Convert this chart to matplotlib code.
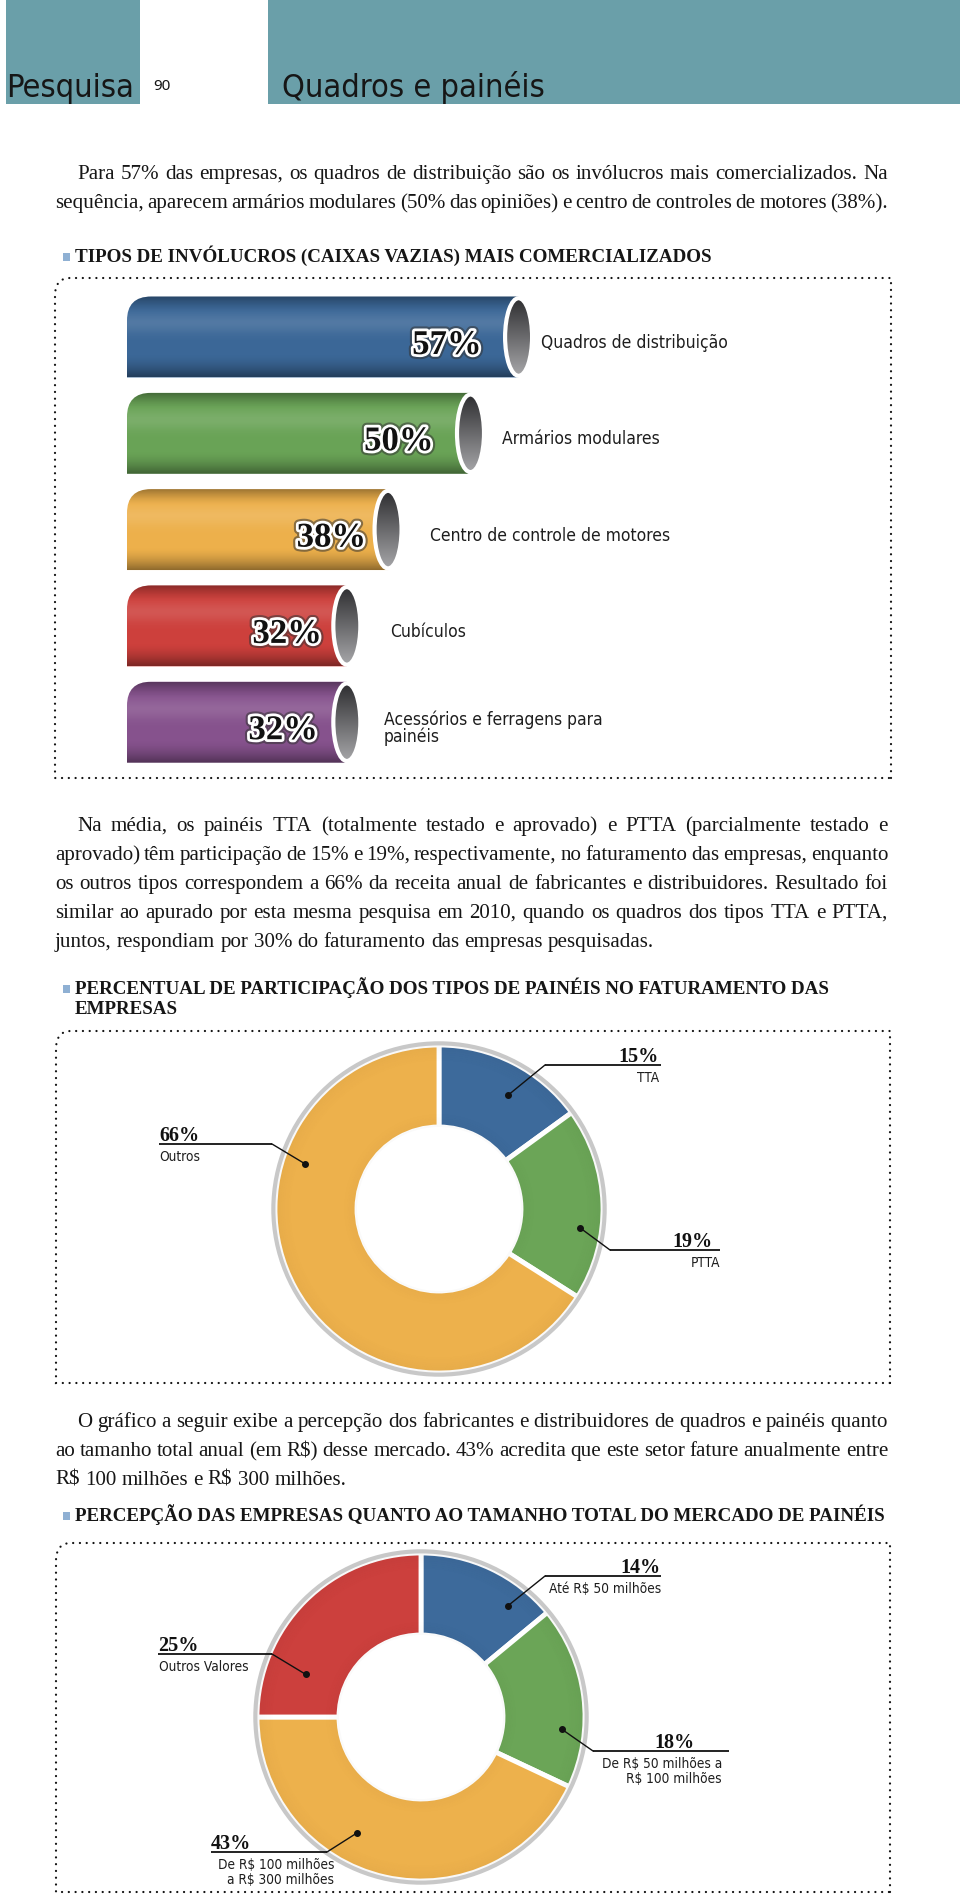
import numpy as np
import matplotlib
matplotlib.use("Agg")
import matplotlib.pyplot as plt
from matplotlib import font_manager
from matplotlib.patches import Rectangle, Ellipse, PathPatch, Circle, Wedge
from matplotlib.path import Path
import matplotlib.patheffects as pe

W, H = 960, 1896

# =============================================================
# DATA
# =============================================================

bar_labels = ["Quadros de distribuição", "Armários modulares",
              "Centro de controle de motores", "Cubículos",
              "Acessórios e ferragens para\npainéis"]
bar_values = [57, 50, 38, 32, 32]
bar_colors = ["#3b6797", "#69a356", "#edb04b", "#cd403c", "#86528d"]

tipo_labels = ["TTA", "PTTA", "Outros"]
tipo_values = [15, 19, 66]
tipo_colors = ["#3d6a9b", "#6ba557", "#edb14c"]

merc_labels = ["Até R$ 50 milhões", "De R$ 50 milhões a\nR$ 100 milhões",
               "De R$ 100 milhões\na R$ 300 milhões", "Outros Valores"]
merc_values = [14, 18, 43, 25]
merc_colors = ["#3d6a9b", "#6ba557", "#edb14c", "#cc403d"]

para1 = [
    "Para 57% das empresas, os quadros de distribuição são os invólucros mais comercializados. Na",
    "sequência, aparecem armários modulares (50% das opiniões) e centro de controles de motores (38%).",
]
para2 = [
    "Na média, os painéis TTA (totalmente testado e aprovado) e PTTA (parcialmente testado e",
    "aprovado) têm participação de 15% e 19%, respectivamente, no faturamento das empresas, enquanto",
    "os outros tipos correspondem a 66% da receita anual de fabricantes e distribuidores. Resultado foi",
    "similar ao apurado por esta mesma pesquisa em 2010, quando os quadros dos tipos TTA e PTTA,",
    "juntos, respondiam por 30% do faturamento das empresas pesquisadas.",
]
para3 = [
    "O gráfico a seguir exibe a percepção dos fabricantes e distribuidores de quadros e painéis quanto",
    "ao tamanho total anual (em R$) desse mercado. 43% acredita que este setor fature anualmente entre",
    "R$ 100 milhões e R$ 300 milhões.",
]
title1 = "TIPOS DE INVÓLUCROS (CAIXAS VAZIAS) MAIS COMERCIALIZADOS"
title2 = ["PERCENTUAL DE PARTICIPAÇÃO DOS TIPOS DE PAINÉIS NO FATURAMENTO DAS",
          "EMPRESAS"]
title3 = "PERCEPÇÃO DAS EMPRESAS QUANTO AO TAMANHO TOTAL DO MERCADO DE PAINÉIS"

# =============================================================
# FONTS / STYLE
# =============================================================

# look for a condensed sans face, else fall back to Roboto
NARROW_KW = dict(family="Roboto")
for f in font_manager.fontManager.ttflist:
    if f.name == "Liberation Sans Narrow":
        NARROW_KW = dict(family=f.name)
        break
else:
    for f in font_manager.fontManager.ttflist:
        st = str(f.stretch)
        if f.name in ("Roboto", "Noto Sans", "Open Sans", "DejaVu Sans", "Inter") \
                and st in ("condensed", "semi-condensed", "extra-condensed") \
                and f.style == "normal":
            NARROW_KW = dict(family=f.name, stretch=st)
            break

SERIF = "Liberation Serif"
TEAL = "#6a9fa9"
INK = "#161616"

fig = plt.figure(figsize=(W / 100, H / 100), dpi=100)
fig.patch.set_facecolor("white")


def px_axes(left, top, width, height, **kw):
    return fig.add_axes([left / W, 1 - (top + height) / H, width / W, height / H], **kw)


bg = px_axes(0, 0, W, H, zorder=0)
bg.set_xlim(0, W)
bg.set_ylim(H, 0)
bg.axis("off")

top = px_axes(0, 0, W, H, zorder=10)
top.set_xlim(0, W)
top.set_ylim(H, 0)
top.axis("off")
top.patch.set_facecolor("none")

renderer = fig.canvas.get_renderer()


def text_width(s, **kw):
    t = top.text(0, 0, s, parse_math=False, **kw)
    w = t.get_window_extent(renderer).width
    t.remove()
    return w


# =============================================================
# HEADER
# =============================================================

bg.add_patch(Rectangle((6, 0), W - 6, 104, color=TEAL, lw=0))
bg.add_patch(Rectangle((140, 0), 128, 104, color="white", lw=0))
head_kw = dict(weight="medium", color=INK, va="baseline", **NARROW_KW)
head_size = min(26, 26 * 128 / text_width("Pesquisa", size=26, weight="medium", **NARROW_KW))
top.text(6, 97, "Pesquisa", size=head_size, **head_kw)
top.text(153, 90, "90", family="Noto Sans", size=11, color=INK, va="baseline")
top.text(282, 97, "Quadros e painéis", size=head_size, **head_kw)

# =============================================================
# BODY TEXT (justified)
# =============================================================

COL_L, COL_R, INDENT = 55, 888, 22
body_kw = dict(family=SERIF, color=INK)
body_size = 10 * 597 / text_width(para2[-1], size=10, **body_kw)


def paragraph(lines, first_baseline, last_justified=False, lh=29):
    kw = dict(size=body_size, **body_kw)
    space = text_width("a a", **kw) - text_width("aa", **kw)
    for i, line in enumerate(lines):
        yb = first_baseline + i * lh
        x0 = COL_L + (INDENT if i == 0 else 0)
        words = line.split(" ")
        widths = [text_width(w, **kw) for w in words]
        if i == len(lines) - 1 and not last_justified:
            gap = space
        else:
            gap = (COL_R - x0 - sum(widths)) / (len(words) - 1)
        x = x0
        for w, wd in zip(words, widths):
            top.text(x, yb, w, va="baseline", ha="left", parse_math=False, **kw)
            x += wd + gap


paragraph(para1, 179, last_justified=True)
paragraph(para2, 831)
paragraph(para3, 1427)

# section titles
title_kw = dict(family=SERIF, weight="bold", color=INK)
title_size = 10 * 807 / text_width(title3, size=10, **title_kw)


def title(lines, baseline):
    bg.add_patch(Rectangle((63, baseline - 9), 7, 8, color="#8fb0d3", lw=0))
    for i, s in enumerate(lines):
        top.text(75, baseline + i * 20, s, size=title_size, va="baseline",
                 parse_math=False, **title_kw)


title([title1], 262)
title(title2, 994)
title([title3], 1521)


# dotted frames
def dotted_box(l, t, r, b):
    verts = [(r, b), (r, t), (l + 15, t), (l, t), (l, t + 18), (l, b), (r, b)]
    codes = [Path.MOVETO, Path.LINETO, Path.LINETO, Path.CURVE3, Path.CURVE3,
             Path.LINETO, Path.LINETO]
    bg.add_patch(PathPatch(Path(verts, codes), fill=False, lw=1.6, ec="#111",
                           ls=(0, (0.05, 3.0)), capstyle="round"))


dotted_box(55, 278, 891, 778)
dotted_box(56, 1031, 890, 1383)
dotted_box(56, 1543, 890, 1892)

# =============================================================
# CYLINDER BARS
# =============================================================

PX_PER_UNIT = 6.87
SLOT = 96.3
axb = px_axes(127, 337 - SLOT / 2, 100 * PX_PER_UNIT, SLOT * 5, zorder=2)
axb.patch.set_facecolor("none")
yy = np.arange(len(bar_values))
bh = 0.84
bars = axb.barh(yy, bar_values, height=bh, color=bar_colors, zorder=2)

prof = np.linspace(0, 1, 200)
dark = 0.34 * np.clip(1 - prof / 0.20, 0, 1) ** 1.5 + 0.40 * np.clip((prof - 0.72) / 0.28, 0, 1) ** 1.6
shade = np.zeros((200, 1, 4))
shade[:, 0, 3] = dark
light = np.ones((200, 1, 4))
light[:, 0, 3] = 0.12 * np.exp(-((prof - 0.33) / 0.13) ** 2)

gprof = np.linspace(0, 1, 100)[:, None]
c0, c1 = np.array([0.17, 0.17, 0.18]), np.array([0.66, 0.66, 0.67])
cap_img = (c0 + (c1 - c0) * gprof)[:, None, :]

rx = 24 / PX_PER_UNIT
ry = 24 / SLOT
capw = 27 / PX_PER_UNIT
label_pad_px = [22, 31, 42, 43, 37]
pct_pad_px = [37, 37, 22, 25, 29]
label_size = 14 * 187 / text_width(bar_labels[0], size=14, **NARROW_KW)

for i, rect in enumerate(bars):
    x0, x1 = rect.get_x(), rect.get_x() + rect.get_width()
    yt, yb = rect.get_y(), rect.get_y() + rect.get_height()
    rect.set_visible(False)
    verts = [(x1, yb), (x0, yb), (x0, yt + ry), (x0, yt), (x0 + rx, yt), (x1, yt), (x1, yb)]
    codes = [Path.MOVETO, Path.LINETO, Path.LINETO, Path.CURVE3, Path.CURVE3,
             Path.LINETO, Path.CLOSEPOLY]
    body = PathPatch(Path(verts, codes), fc=rect.get_facecolor(), lw=0, zorder=2)
    axb.add_patch(body)
    for img in (shade, light):
        im = axb.imshow(img, extent=(x0, x1, yb, yt), aspect="auto", zorder=3,
                        interpolation="bilinear")
        im.set_clip_path(body)
    yc = yy[i]
    cap = Ellipse((x1, yc), capw, bh * 0.96, fc="none", lw=0, zorder=4)
    axb.add_patch(cap)
    im = axb.imshow(cap_img, extent=(x1 - capw / 2, x1 + capw / 2, yc + bh / 2, yc - bh / 2),
                    aspect="auto", zorder=4, interpolation="bilinear")
    im.set_clip_path(cap)
    axb.add_patch(Ellipse((x1, yc), capw, bh * 0.96, fc="none", ec="white", lw=3, zorder=5))

    axb.text(x1 - pct_pad_px[i] / PX_PER_UNIT, yc + 17 / SLOT, f"{bar_values[i]}%",
             ha="right", va="baseline", family=SERIF, weight="bold", size=25,
             color="#111", zorder=6,
             path_effects=[pe.Stroke(linewidth=7, foreground="#333333", alpha=0.55),
                           pe.Stroke(linewidth=4, foreground="white"), pe.Normal()])
    axb.text(x1 + label_pad_px[i] / PX_PER_UNIT, yc + 6 / SLOT, bar_labels[i],
             ha="left", va="center", size=label_size, color="#1e1e1e",
             linespacing=0.95, zorder=6, **NARROW_KW)

axb.set_xlim(0, 100)
axb.set_ylim(len(bar_values) - 0.5, -0.5)
axb.axis("off")

# =============================================================
# DONUTS
# =============================================================

R = 164
LIM = 1.15


def donut(cx, cy, values, colors):
    half = R * LIM
    ax = px_axes(cx - half, cy - half, 2 * half, 2 * half, zorder=2)
    ax.pie(values, colors=colors, startangle=90, counterclock=False,
           wedgeprops=dict(width=0.5, edgecolor="white", linewidth=3.5))
    for k in range(8):
        ax.add_patch(Wedge((0, 0), 1.0 - k * 0.012, 0, 360, width=0.012,
                           fc="black", alpha=0.025 * (8 - k) / 8, lw=0, zorder=3))
        ax.add_patch(Wedge((0, 0), 0.5 + (k + 1) * 0.01, 0, 360, width=0.01,
                           fc="black", alpha=0.02 * (8 - k) / 8, lw=0, zorder=3))
    ax.add_patch(Circle((0, 0), 1.01, fill=False, ec="#c8c8c8", lw=3, zorder=4))
    ax.set_xlim(-LIM, LIM)
    ax.set_ylim(-LIM, LIM)
    ax.set_aspect("equal")
    ax.axis("off")
    return ax


name_size = 10 * 41 / text_width("Outros", size=10, **NARROW_KW)


def annotate(cx, cy, value, name, note):
    a = np.radians(note["ang"])
    dx = cx + R * note["r"] * np.cos(a)
    dy = cy - R * note["r"] * np.sin(a)
    rx0, rx1, ryy = note["rule"]
    ax_att = rx0 if note["side"] == "R" else rx1
    top.plot([rx0, rx1], [ryy, ryy], color="#111", lw=1.3, solid_capstyle="butt")
    top.plot([ax_att, dx], [ryy, dy], color="#111", lw=1.0)
    top.plot(dx, dy, "o", ms=4, color="#111")
    top.text(note["px"], ryy - 3, f"{value}%", ha=note["pha"], va="baseline",
             family=SERIF, weight="bold", size=14.5, color="#111")
    top.text(note["nx"], ryy + 6, name, ha=note["nha"], va="top",
             size=name_size, color="#1e1e1e", linespacing=1.1,
             multialignment=note["nha"], parse_math=False, **NARROW_KW)


D1 = (439, 1209)
donut(*D1, tipo_values, tipo_colors)
notes1 = [
    dict(ang=58.8, r=0.81, rule=(545, 661, 1065), side="R", px=659, pha="right", nx=659, nha="right"),
    dict(ang=-7.7, r=0.87, rule=(610, 720, 1250), side="R", px=712, pha="right", nx=720, nha="right"),
    dict(ang=161.4, r=0.86, rule=(159, 272, 1144), side="L", px=159, pha="left", nx=159, nha="left"),
]
for v, n, note in zip(tipo_values, tipo_labels, notes1):
    annotate(*D1, v, n, note)

D2 = (421, 1717)
donut(*D2, merc_values, merc_colors)
notes2 = [
    dict(ang=52, r=0.86, rule=(545, 661, 1576), side="R", px=660, pha="right", nx=661, nha="right"),
    dict(ang=-4.9, r=0.86, rule=(593, 729, 1751), side="R", px=694, pha="right", nx=722, nha="right"),
    dict(ang=241, r=0.81, rule=(211, 327, 1852), side="L", px=211, pha="left", nx=334, nha="right"),
    dict(ang=159.7, r=0.75, rule=(158, 272, 1654), side="L", px=158, pha="left", nx=159, nha="left"),
]
for v, n, note in zip(merc_values, merc_labels, notes2):
    annotate(*D2, v, n, note)

fig.savefig("out.png", dpi=100, facecolor="white")
